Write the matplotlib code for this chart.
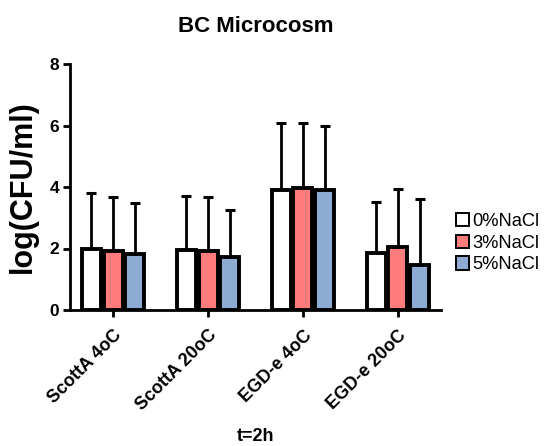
import matplotlib
matplotlib.use("Agg")
import matplotlib.pyplot as plt
import numpy as np

plt.rcParams['font.family'] = ['Liberation Sans', 'DejaVu Sans']

groups = ["ScottA 4oC", "ScottA 20oC", "EGD-e 4oC", "EGD-e 20oC"]
series = ["0%NaCl", "3%NaCl", "5%NaCl"]
means = {
    "0%NaCl": [1.98, 1.96, 3.90, 1.84],
    "3%NaCl": [1.92, 1.92, 3.98, 2.06],
    "5%NaCl": [1.82, 1.73, 3.91, 1.46],
}
upper = {
    "0%NaCl": [3.79, 3.72, 6.07, 3.50],
    "3%NaCl": [3.66, 3.66, 6.07, 3.92],
    "5%NaCl": [3.48, 3.26, 5.99, 3.60],
}
colors = {"0%NaCl": "#ffffff", "3%NaCl": "#ff7c7c", "5%NaCl": "#8eabd4"}

fig = plt.figure(figsize=(5.44, 4.46), dpi=100)
ax = fig.add_axes([70/544, 1 - 310/446, 371/544, 246/446])

x = np.arange(len(groups))
width = 0.2
offsets = [-0.228, 0.0, 0.228]
for s, off in zip(series, offsets):
    m = np.array(means[s])
    err = np.array(upper[s]) - m
    ax.bar(x + off, m, width, color=colors[s], edgecolor="black", linewidth=2.8,
           label=s, zorder=2)
    ax.errorbar(x + off, m, yerr=[np.zeros_like(err), err], fmt="none",
                ecolor="black", elinewidth=2, capsize=3.8, capthick=2.2, zorder=1)

ax.set_ylim(0, 8)
ax.set_xlim(-0.453, 3.453)
ax.set_yticks([0, 2, 4, 6, 8])
ax.set_xticks(x)
ax.set_xticklabels(groups, rotation=45, ha="right", rotation_mode="anchor",
                   fontweight="bold", fontsize=13)
for lab in ax.get_yticklabels():
    lab.set_fontweight("bold")
    lab.set_fontsize(12.5)

for side in ["top", "right"]:
    ax.spines[side].set_visible(False)
for side in ["left", "bottom"]:
    ax.spines[side].set_linewidth(2)
ax.tick_params(width=2, length=5, pad=3)
ax.tick_params(axis="x", pad=7)

ax.set_ylabel("log(CFU/ml)", fontsize=22, fontweight="bold", labelpad=8)
ax.set_xlabel("t=2h", fontsize=13, fontweight="bold", labelpad=10)
ax.set_title("BC Microcosm", fontsize=16, fontweight="bold", pad=23)

leg = ax.legend(loc="center left", bbox_to_anchor=(0.995, 0.272), frameon=False,
                fontsize=13.2, handlelength=0.75, handleheight=0.75,
                handletextpad=0.15, labelspacing=0.25, borderaxespad=0.5)
for h in leg.legend_handles:
    h.set_linewidth(1.4)

fig.savefig("out.png", dpi=100)
